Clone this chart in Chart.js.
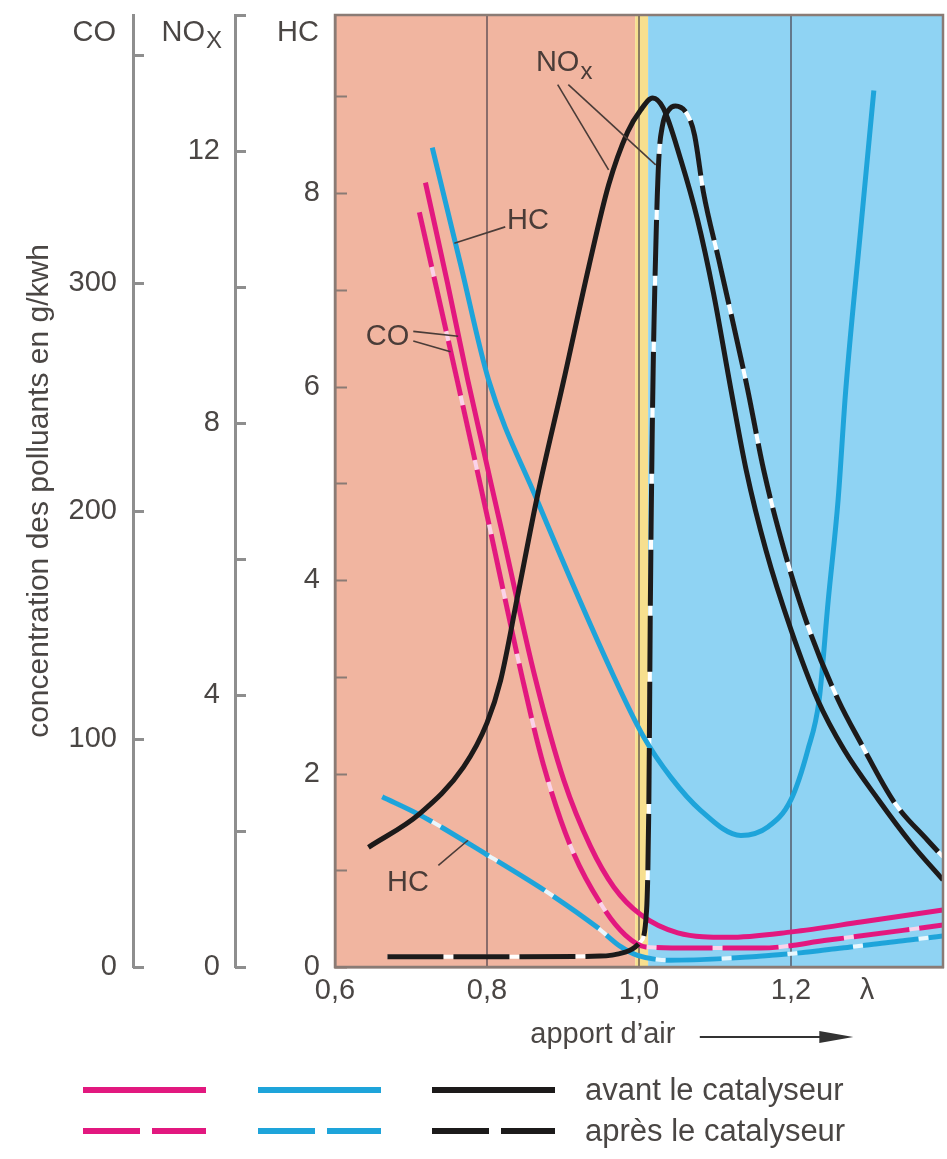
<!DOCTYPE html>
<html lang="fr">
<head>
<meta charset="utf-8">
<title>Polluants et apport d'air</title>
<script src="https://cdn.jsdelivr.net/npm/chart.js@4.4.1/dist/chart.umd.min.js"></script>
<style>
  html, body { margin: 0; padding: 0; background: #fff; }
</style>
</head>
<body>
<canvas id="pollutantChart" width="947" height="1159"></canvas>
<script>
// values: [lambda, value]
// CO in g/kWh (left scale), NOx on the middle scale, HC on the inner scale
var coAvant = [[0.719, 344], [0.748, 300], [0.775, 257], [0.819, 192], [0.864, 126], [0.901, 82],
    [0.936, 53], [0.967, 35], [1.002, 23], [1.051, 15], [1.117, 13], [1.201, 15.4], [1.292, 19.7], [1.4, 25]];
var coApres = [[0.711, 331], [0.761, 257], [0.804, 192], [0.847, 126], [0.874, 89], [0.910, 53],
    [0.953, 26], [0.982, 14], [1.009, 8.8], [1.072, 8.3], [1.160, 8.3], [1.249, 11.8], [1.4, 18.4]];

var hcAvant = [[0.728, 8.47], [0.765, 7.27], [0.802, 6.07], [0.864, 4.86], [0.967, 3.00], [1.006, 2.38],
    [1.042, 1.96], [1.081, 1.62], [1.134, 1.36], [1.170, 1.45], [1.200, 1.73], [1.222, 2.24],
    [1.237, 2.76], [1.249, 3.79], [1.262, 4.83], [1.272, 5.96], [1.292, 7.65], [1.309, 9.06]];
var hcApres = [[0.662, 1.76], [0.712, 1.57], [0.800, 1.16], [0.880, 0.77], [0.945, 0.41], [0.976, 0.21],
    [0.998, 0.12], [1.042, 0.07], [1.117, 0.09], [1.204, 0.14], [1.292, 0.22], [1.4, 0.32]];

var noxAvant = [[0.644, 1.76], [0.712, 2.26], [0.769, 2.94], [0.800, 3.59], [0.818, 4.22], [0.840, 5.44],
    [0.866, 6.91], [0.901, 8.63], [0.934, 10.30], [0.960, 11.50], [0.985, 12.28], [1.002, 12.60],
    [1.018, 12.78], [1.032, 12.63], [1.055, 11.87], [1.077, 10.99], [1.098, 9.91], [1.121, 8.49],
    [1.141, 7.31], [1.167, 6.13], [1.200, 4.96], [1.235, 3.93], [1.270, 3.19], [1.315, 2.46],
    [1.358, 1.82], [1.4, 1.28]];
var noxApres = [[0.669, 0.15], [0.818, 0.15], [0.949, 0.16], [0.982, 0.22], [1.002, 0.37], [1.010, 0.84],
    [1.013, 2.46], [1.015, 5.40], [1.018, 8.34], [1.022, 10.54], [1.026, 11.87], [1.031, 12.38],
    [1.039, 12.60], [1.048, 12.66], [1.064, 12.53], [1.073, 12.24], [1.085, 11.38], [1.105, 10.40],
    [1.125, 9.41], [1.143, 8.49], [1.164, 7.31], [1.191, 6.13], [1.224, 4.96], [1.262, 3.93],
    [1.292, 3.29], [1.336, 2.42], [1.380, 1.86], [1.4, 1.62]];

// x tick labels (decimal comma) and the lambda sign
var xTickLabels = { 6: '0,6', 8: '0,8', 10: '1,0', 12: '1,2', 13: '\u03bb' };
var gridAt = [8, 10, 12];

// mixture zones: rich (pink), stoichiometric window (yellow), lean (blue)
var zoneEdges = [0.6, 0.995, 1.012, 1.4];
var zoneColors = ['#f1b5a0', '#f7df8e', '#8fd3f3'];

// callouts on the plot, placed in lambda / HC units
var notes = [
    { text: 'HC', x: 0.854, y: 7.71, lines: [[0.824, 7.65, 0.757, 7.48]] },
    { text: 'CO', x: 0.669, y: 6.51, lines: [[0.703, 6.57, 0.762, 6.52], [0.703, 6.47, 0.752, 6.36]] },
    { text: 'NO', sub: 'x', x: 0.893, y: 9.34, lines: [[0.893, 9.12, 0.960, 8.24], [0.907, 9.12, 1.022, 8.29]] },
    { text: 'HC', x: 0.696, y: 0.87, lines: [[0.736, 1.05, 0.775, 1.31]] }
];

var MAGENTA = '#e2187f';
var CYAN = '#1ea4da';
var BLACK = '#1c1a1a';
var TEXT = '#4a4644';
var AXIS = '#8e8e8e';
var FRAME = '#8a7b75';
var FONT = '"Liberation Sans", Arial, sans-serif';
var DASH = [56, 10];

function pts(arr) {
    return arr.map(function (p) { return { x: p[0], y: p[1] }; });
}

function series(data, axis, color, dashed) {
    return {
        data: pts(data),
        yAxisID: axis,
        borderColor: color,
        borderWidth: 5,
        borderDash: dashed ? DASH : [],
        pointRadius: 0,
        fill: false,
        cubicInterpolationMode: 'monotone',
        order: 1
    };
}

// light line under each dashed curve so the gaps look white
function halo(data, axis, color) {
    var d = series(data, axis, color, false);
    d.borderWidth = 4;
    d.order = 5;
    return d;
}

// keep the plot edges where the figure has them (no room reserved for end labels)
function noEndPadding(s) {
    s.paddingTop = 0;
    s.paddingBottom = 0;
    s.paddingLeft = 0;
    s.paddingRight = 0;
}

var extras = {
    id: 'extras',
    beforeDraw: function (chart) {
        var ctx = chart.ctx, area = chart.chartArea, xs = chart.scales.x;
        ctx.save();
        for (var i = 0; i < zoneColors.length; i++) {
            var x0 = xs.getPixelForValue(zoneEdges[i]);
            var x1 = xs.getPixelForValue(zoneEdges[i + 1]);
            ctx.fillStyle = zoneColors[i];
            ctx.fillRect(x0, area.top, x1 - x0, area.bottom - area.top);
        }
        ctx.restore();
    },
    afterDatasetsDraw: function (chart) {
        var ctx = chart.ctx, area = chart.chartArea;
        var xs = chart.scales.x, hc = chart.scales.yHC;
        ctx.save();
        // frame
        ctx.strokeStyle = FRAME;
        ctx.lineWidth = 2.5;
        ctx.strokeRect(area.left, area.top, area.right - area.left, area.bottom - area.top);

        // inward tick marks on the three vertical scales
        ['yCO', 'yNOX', 'yHC'].forEach(function (id) {
            var s = chart.scales[id];
            var inner = id === 'yHC';
            ctx.strokeStyle = inner ? FRAME : AXIS;
            ctx.lineWidth = inner ? 2 : 3;
            s.ticks.forEach(function (t) {
                var y = Math.round(s.getPixelForValue(t.value)) + 0.5;
                ctx.beginPath();
                ctx.moveTo(s.right, y);
                ctx.lineTo(s.right + (inner ? 12 : 11), y);
                ctx.stroke();
            });
        });

        // callouts
        ctx.fillStyle = '#4a3c38';
        ctx.strokeStyle = '#4a3c38';
        ctx.lineWidth = 1.6;
        ctx.textBaseline = 'middle';
        notes.forEach(function (n) {
            n.lines.forEach(function (l) {
                ctx.beginPath();
                ctx.moveTo(xs.getPixelForValue(l[0]), hc.getPixelForValue(l[1]));
                ctx.lineTo(xs.getPixelForValue(l[2]), hc.getPixelForValue(l[3]));
                ctx.stroke();
            });
            var px = xs.getPixelForValue(n.x), py = hc.getPixelForValue(n.y);
            ctx.font = '29px ' + FONT;
            ctx.textAlign = 'center';
            ctx.fillText(n.text, px, py);
            if (n.sub) {
                var w = ctx.measureText(n.text).width;
                ctx.font = '24px ' + FONT;
                ctx.textAlign = 'left';
                ctx.fillText(n.sub, px + w / 2 + 1, py + 9);
            }
        });
        ctx.restore();
    },
    afterDraw: function (chart) {
        var ctx = chart.ctx, area = chart.chartArea, xs = chart.scales.x;
        ctx.save();
        ctx.fillStyle = TEXT;
        ctx.textBaseline = 'middle';
        ctx.textAlign = 'right';

        // scale names above each vertical axis
        var ty = area.top + 18;
        ctx.font = '29px ' + FONT;
        ctx.fillText('CO', chart.scales.yCO.right - 17, ty);
        ctx.fillText('HC', chart.scales.yHC.right - 16, ty);
        var nr = chart.scales.yNOX.right - 13;
        ctx.font = '24px ' + FONT;
        ctx.fillText('X', nr, ty + 8);
        var xw = ctx.measureText('X').width;
        ctx.font = '29px ' + FONT;
        ctx.fillText('NO', nr - xw - 1, ty);

        // x title with arrow
        var titleY = 1035;
        ctx.textAlign = 'left';
        ctx.font = '29px ' + FONT;
        ctx.fillText('apport d\u2019air', xs.getPixelForValue(0.857), titleY);
        var a0 = xs.getPixelForValue(1.08), a1 = xs.getPixelForValue(1.282);
        ctx.strokeStyle = '#333';
        ctx.lineWidth = 2;
        ctx.beginPath();
        ctx.moveTo(a0, titleY + 2);
        ctx.lineTo(a1 - 28, titleY + 2);
        ctx.stroke();
        ctx.fillStyle = '#333';
        ctx.beginPath();
        ctx.moveTo(a1, titleY + 2);
        ctx.lineTo(a1 - 34, titleY - 4);
        ctx.lineTo(a1 - 34, titleY + 8);
        ctx.closePath();
        ctx.fill();

        // legend: colour key for each pollutant, solid = before, dashed = after
        var rows = [{ y: 1090, dash: [], label: 'avant le catalyseur' },
                    { y: 1131, dash: [57, 12], label: 'apr\u00e8s le catalyseur' }];
        var keys = [[83, MAGENTA], [258, CYAN], [432, BLACK]];
        rows.forEach(function (r) {
            keys.forEach(function (k) {
                ctx.strokeStyle = k[1];
                ctx.lineWidth = 6;
                ctx.setLineDash(r.dash);
                ctx.beginPath();
                ctx.moveTo(k[0], r.y);
                ctx.lineTo(k[0] + 123, r.y);
                ctx.stroke();
            });
            ctx.setLineDash([]);
            ctx.fillStyle = TEXT;
            ctx.font = '31px ' + FONT;
            ctx.textAlign = 'left';
            ctx.fillText(r.label, 585, r.y + 1);
        });
        ctx.restore();
    }
};

var tickFont = { family: FONT, size: 29 };

var chart = new Chart(document.getElementById('pollutantChart').getContext('2d'), {
    type: 'line',
    data: {
        datasets: [
            series(noxAvant, 'yNOX', BLACK, false),
            series(noxApres, 'yNOX', BLACK, true),
            series(coAvant, 'yCO', MAGENTA, false),
            series(coApres, 'yCO', MAGENTA, true),
            series(hcAvant, 'yHC', CYAN, false),
            series(hcApres, 'yHC', CYAN, true),
            halo(noxApres, 'yNOX', '#ffffff'),
            halo(coApres, 'yCO', '#fbd3ea'),
            halo(hcApres, 'yHC', '#e9f7fd')
        ]
    },
    options: {
        responsive: false,
        animation: false,
        devicePixelRatio: 1,
        layout: { padding: { top: 15, right: 4, left: 0, bottom: 0 } },
        plugins: {
            legend: { display: false },
            tooltip: { enabled: false }
        },
        scales: {
            x: {
                type: 'linear',
                min: 0.6,
                max: 1.4,
                border: { display: true, color: FRAME, width: 2.5 },
                grid: {
                    drawTicks: false,
                    lineWidth: 2,
                    color: function (c) {
                        var k = Math.round(c.tick.value * 10);
                        return gridAt.indexOf(k) >= 0 ? 'rgba(70,60,70,0.6)' : 'transparent';
                    }
                },
                ticks: {
                    stepSize: 0.1,
                    includeBounds: false,
                    autoSkip: false,
                    maxRotation: 0,
                    padding: 7,
                    color: TEXT,
                    font: tickFont,
                    callback: function (v) {
                        var k = Math.round(v * 10);
                        return xTickLabels[k] || '';
                    }
                },
                afterFit: function (s) { s.height = 192; noEndPadding(s); }
            },
            yCO: {
                position: 'left',
                weight: 3,
                min: 0,
                max: 417.5,
                border: { display: true, color: AXIS, width: 3 },
                grid: { drawOnChartArea: false, drawTicks: false, color: 'transparent' },
                ticks: {
                    stepSize: 100,
                    includeBounds: false,
                    padding: 16,
                    color: TEXT,
                    font: tickFont,
                    callback: function (v) { return v === 400 ? '' : v; }
                },
                title: {
                    display: true,
                    text: 'concentration des polluants en g/kwh',
                    color: TEXT,
                    font: { family: FONT, size: 30 },
                    padding: { top: 22, bottom: 0 }
                },
                afterFit: function (s) { s.width = 133; noEndPadding(s); }
            },
            yNOX: {
                position: 'left',
                weight: 2,
                min: 0,
                max: 14,
                border: { display: true, color: AXIS, width: 3 },
                grid: { drawOnChartArea: false, drawTicks: false, color: 'transparent' },
                ticks: {
                    stepSize: 2,
                    includeBounds: false,
                    padding: 15,
                    color: TEXT,
                    font: tickFont,
                    callback: function (v) { return (v % 4 === 0 && v < 14) ? v : ''; }
                },
                afterFit: function (s) { s.width = 102; noEndPadding(s); }
            },
            yHC: {
                position: 'left',
                weight: 1,
                min: 0,
                max: 9.84,
                border: { display: true, color: FRAME, width: 2.5 },
                grid: { drawOnChartArea: false, drawTicks: false, color: 'transparent' },
                ticks: {
                    stepSize: 1,
                    includeBounds: false,
                    padding: 15,
                    color: TEXT,
                    font: tickFont,
                    callback: function (v) { return v % 2 === 0 ? v : ''; }
                },
                afterFit: function (s) { s.width = 100; noEndPadding(s); }
            }
        }
    },
    plugins: [extras]
});
</script>
</body>
</html>
